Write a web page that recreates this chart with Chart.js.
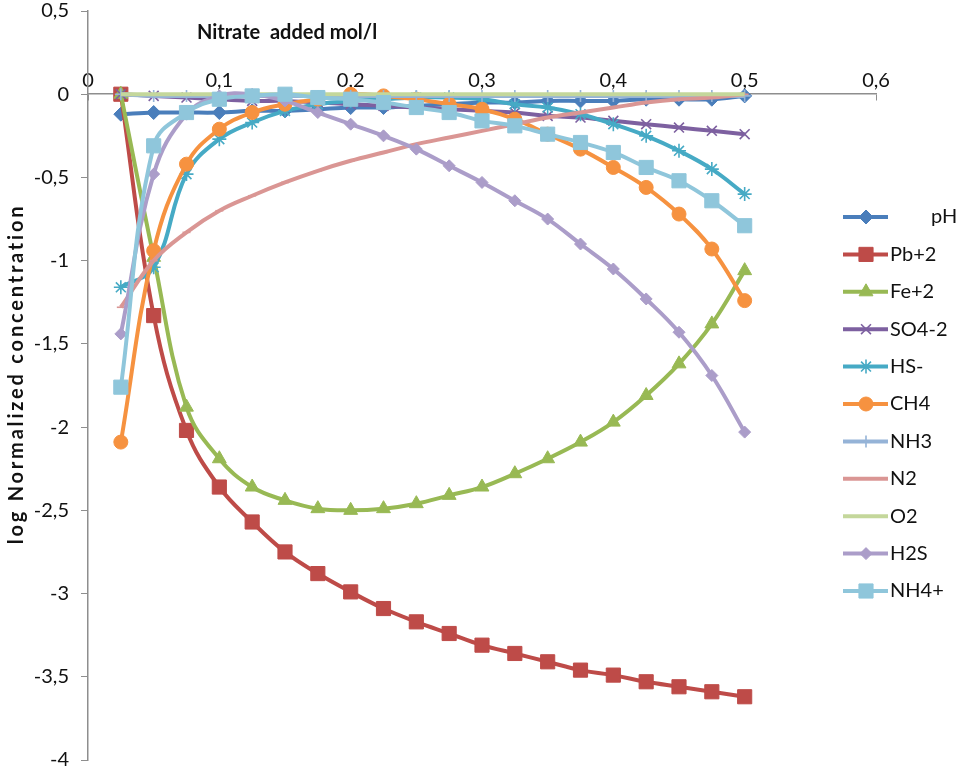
<!DOCTYPE html>
<html>
<head>
<meta charset="utf-8">
<script src="https://cdn.jsdelivr.net/npm/chart.js"></script>
<style>
    html, body { margin: 0; padding: 0; background: #fff; }
    .chart-container { position: relative; width: 958px; height: 771px; }
</style>
</head>
<body>
<div class="chart-container">
    <canvas id="chart"></canvas>
</div>
<script>
// nitrate added, mol/l
const nitrate = [0.025, 0.05, 0.075, 0.1, 0.125, 0.15, 0.175, 0.2, 0.225, 0.25,
                 0.275, 0.3, 0.325, 0.35, 0.375, 0.4, 0.425, 0.45, 0.475, 0.5];

// log normalized concentration per species
const pH   = [-0.12, -0.11, -0.11, -0.11, -0.10, -0.10, -0.09, -0.08, -0.08, -0.07,
              -0.06, -0.05, -0.05, -0.04, -0.04, -0.04, -0.03, -0.03, -0.03, -0.01];
const pb2  = [0, -1.33, -2.02, -2.36, -2.57, -2.75, -2.88, -2.99, -3.09, -3.17,
              -3.24, -3.31, -3.36, -3.41, -3.46, -3.49, -3.53, -3.56, -3.59, -3.62];
const fe2  = [0, -0.98, -1.88, -2.19, -2.36, -2.44, -2.49, -2.50, -2.49, -2.46,
              -2.41, -2.36, -2.28, -2.19, -2.09, -1.97, -1.81, -1.62, -1.38, -1.06];
const so4  = [0, -0.01, -0.02, -0.03, -0.04, -0.04, -0.05, -0.06, -0.07, -0.08,
              -0.09, -0.10, -0.11, -0.13, -0.14, -0.16, -0.18, -0.20, -0.22, -0.24];
const hs   = [-1.16, -1.04, -0.48, -0.27, -0.17, -0.10, -0.06, -0.04, -0.03, -0.02,
              -0.02, -0.03, -0.06, -0.08, -0.12, -0.18, -0.25, -0.34, -0.45, -0.60];
const ch4  = [-2.09, -0.94, -0.42, -0.21, -0.11, -0.06, -0.03, 0, -0.01, -0.03,
              -0.06, -0.09, -0.15, -0.24, -0.33, -0.44, -0.56, -0.72, -0.93, -1.24];
const nh3  = [0, -0.01, -0.01, -0.01, -0.01, -0.01, -0.01, -0.01, -0.01, -0.01,
              -0.01, -0.01, -0.01, -0.01, -0.01, -0.01, -0.01, -0.01, -0.01, -0.01];
const n2   = [-1.28, -1.00, -0.83, -0.70, -0.61, -0.53, -0.46, -0.40, -0.35, -0.30,
              -0.26, -0.22, -0.18, -0.14, -0.11, -0.08, -0.05, -0.03, -0.02, 0];
const o2   = [0, 0, 0, 0, 0, 0, 0, 0, 0, 0,
              0, 0, 0, 0, 0, 0, 0, 0, 0, 0];
const h2s  = [-1.44, -0.48, -0.12, -0.01, 0, -0.04, -0.11, -0.18, -0.25, -0.33,
              -0.43, -0.53, -0.64, -0.75, -0.90, -1.05, -1.23, -1.43, -1.69, -2.03];
const nh4  = [-1.76, -0.31, -0.11, -0.03, -0.01, 0, -0.02, -0.03, -0.05, -0.08,
              -0.11, -0.16, -0.19, -0.24, -0.29, -0.35, -0.44, -0.52, -0.64, -0.79];

const seriesNames = ['pH', 'Pb+2', 'Fe+2', 'SO4-2', 'HS-', 'CH4', 'NH3', 'N2', 'O2', 'H2S', 'NH4+'];
const seriesData  = [pH, pb2, fe2, so4, hs, ch4, nh3, n2, o2, h2s, nh4];

const xTickLabels = ['0', '0,1', '0,2', '0,3', '0,4', '0,5', '0,6'];
const yTickLabels = ['-4', '-3,5', '-3', '-2,5', '-2', '-1,5', '-1', '-0,5', '0', '0,5'];

// look of each series: colour, marker, marker radius
const styles = [
    { color: '#4A7EBB', marker: 'rectRot',  radius: 7 },
    { color: '#BE4B48', marker: 'rect',     radius: 10 },
    { color: '#98B954', marker: 'triangle', radius: 8 },
    { color: '#7D60A0', marker: 'crossRot', radius: 7 },
    { color: '#46AAC5', marker: 'star',     radius: 7 },
    { color: '#F69240', marker: 'circle',   radius: 7 },
    { color: '#95B3D7', marker: 'cross',    radius: 6 },
    { color: '#DA9694', marker: 'line',     radius: 4 },
    { color: '#C4D79B', marker: false,      radius: 0 },
    { color: '#AB9DC9', marker: 'rectRot',  radius: 6 },
    { color: '#8FC6DB', marker: 'rect',     radius: 10 }
];

const datasets = seriesNames.map((name, i) => {
    const s = styles[i];
    const stroked = ['crossRot', 'star', 'cross', 'line'].includes(s.marker);
    return {
        label: name,
        data: seriesData[i].map((v, j) => ({ x: nitrate[j], y: v })),
        borderColor: s.color,
        backgroundColor: s.color,
        borderWidth: 4,
        tension: 0.4,
        pointStyle: s.marker,
        pointRadius: s.radius,
        pointHoverRadius: s.radius,
        pointBackgroundColor: s.color,
        pointBorderColor: s.color,
        pointBorderWidth: stroked ? 1.6 : 1,
        order: seriesNames.length - i
    };
});

const FONT = 'Lato';

// axis titles and the line+marker legend on the right
const extras = {
    id: 'extras',
    afterDraw(chart) {
        const ctx = chart.ctx;
        ctx.save();
        ctx.fillStyle = '#111';
        ctx.textBaseline = 'middle';

        ctx.font = 'bold 20px ' + FONT;
        ctx.textAlign = 'left';
        ctx.fillText('Nitrate  added mol/l', 197, 33);

        ctx.save();
        ctx.translate(17, 374);
        ctx.rotate(-Math.PI / 2);
        ctx.textAlign = 'center';
        ctx.letterSpacing = '2.8px';
        ctx.fillText('log Normalized concentration', 0, 0);
        ctx.restore();

        ctx.font = '20px ' + FONT;
        chart.data.datasets.forEach((ds, i) => {
            const s = styles[i];
            const y = 217 + i * 37.4;
            ctx.strokeStyle = s.color;
            ctx.lineWidth = 4;
            ctx.beginPath();
            ctx.moveTo(843, y);
            ctx.lineTo(888, y);
            ctx.stroke();
            if (s.marker && s.marker !== 'line') {
                ctx.fillStyle = s.color;
                ctx.lineWidth = ds.pointBorderWidth;
                Chart.helpers.drawPoint(ctx, {
                    pointStyle: s.marker, radius: s.radius, rotation: 0, borderWidth: ds.pointBorderWidth
                }, 866, y);
            }
            ctx.fillStyle = '#111';
            ctx.textAlign = 'left';
            ctx.fillText(ds.label, i === 0 ? 931 : 890, y);
        });
        ctx.restore();
    }
};

new Chart(document.getElementById('chart'), {
    type: 'line',
    data: { datasets },
    plugins: [extras],
    options: {
        responsive: true,
        maintainAspectRatio: false,
        animation: false,
        layout: { padding: { left: 0, top: 0, right: 82, bottom: 0 } },
        plugins: { legend: { display: false }, tooltip: { enabled: false } },
        scales: {
            x: {
                type: 'linear',
                position: { y: 0 },
                min: 0,
                max: 0.6,
                grid: { drawOnChartArea: false, tickLength: 6, color: '#8e8e8e' },
                border: { color: '#8e8e8e', width: 1.5 },
                ticks: {
                    stepSize: 0.1,
                    padding: -30,
                    maxRotation: 0,
                    color: '#111',
                    font: { family: FONT, size: 20, lineHeight: 1 },
                    callback: (v, i) => xTickLabels[i]
                }
            },
            y: {
                type: 'linear',
                min: -4,
                max: 0.5,
                afterFit: scale => {
                    scale.width = 88;
                    scale.paddingTop = 10;
                    scale.paddingBottom = 9;
                },
                grid: { drawOnChartArea: false, tickLength: 7, color: '#8e8e8e' },
                border: { color: '#8e8e8e', width: 1.5 },
                ticks: {
                    stepSize: 0.5,
                    padding: 12,
                    color: '#111',
                    font: { family: FONT, size: 20, lineHeight: 1 },
                    callback: (v, i) => yTickLabels[i]
                }
            }
        }
    }
});
</script>
</body>
</html>
